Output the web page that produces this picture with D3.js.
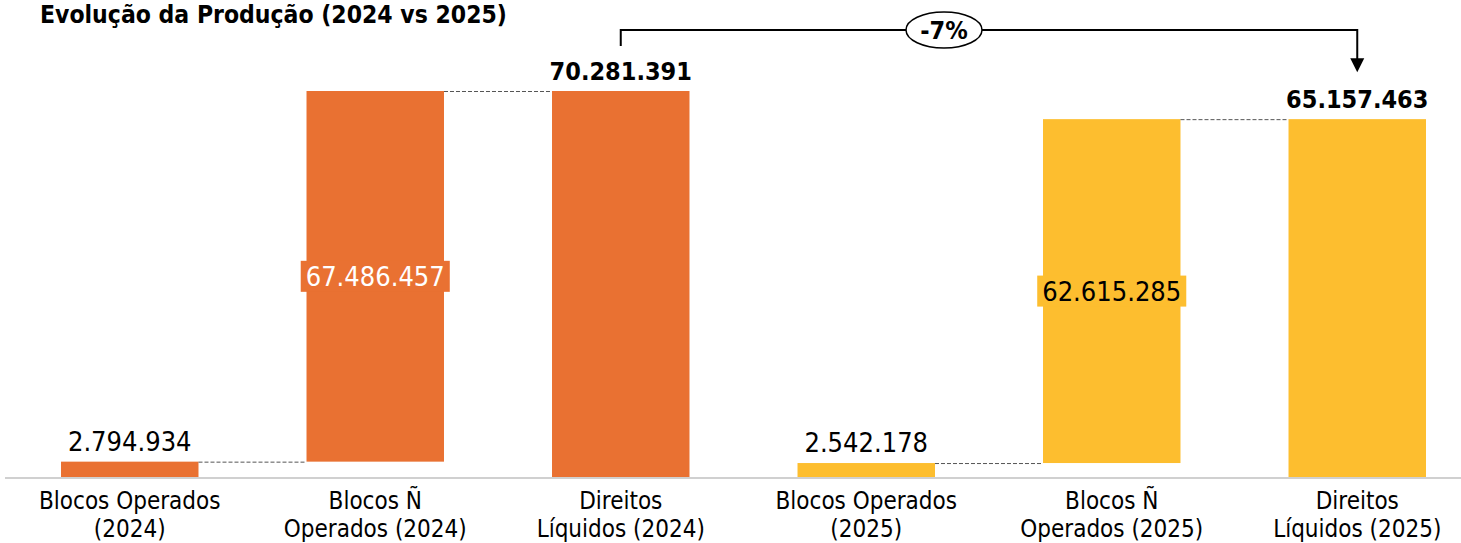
<!DOCTYPE html>
<html>
<head>
<meta charset="utf-8">
<script src="https://cdn.jsdelivr.net/npm/d3@7"></script>
<style>
  html, body { margin: 0; padding: 0; background: #fff; }
  svg { display: block; }
  text { font-family: "DejaVu Sans Condensed", "DejaVu Sans", sans-serif; }
</style>
</head>
<body>
<svg id="chart" width="1461" height="543"></svg>
<script>
// Production bridge, 2024 vs 2025
const categories = [
  ["Blocos Operados", "(2024)"],
  ["Blocos Ñ", "Operados (2024)"],
  ["Direitos", "Líquidos (2024)"],
  ["Blocos Operados", "(2025)"],
  ["Blocos Ñ", "Operados (2025)"],
  ["Direitos", "Líquidos (2025)"]
];
const values = [2794934, 67486457, 70281391, 2542178, 62615285, 65157463];
// "step" bars float on top of the previous bar, "total" bars start at zero
const kinds = ["step", "step", "total", "step", "step", "total"];
const years = ["2024", "2024", "2024", "2025", "2025", "2025"];
const variationLabel = "-7%";
const title = "Evolução da Produção (2024 vs 2025)";

const colors = { "2024": "#E97132", "2025": "#FDBE2F" };

const svg = d3.select("#chart");
const W = 1461, H = 543;
const baseY = 477;

const x = d3.scaleBand()
  .domain(d3.range(categories.length))
  .range([7, 1480])
  .paddingInner(0.44)
  .paddingOuter(0.22);

const y = d3.scaleLinear()
  .domain([0, 70281391])
  .range([baseY, 91]);

// Running start/end of each bar
const bars = [];
let running = 0;
values.forEach((v, i) => {
  if (kinds[i] === "total") {
    bars.push({ i, start: 0, end: v, value: v });
    running = 0;
  } else {
    bars.push({ i, start: running, end: running + v, value: v });
    running += v;
  }
});

const fmt = v => d3.format(",")(v).replace(/,/g, ".");

// Title
svg.append("text")
  .attr("x", 40).attr("y", 23)
  .attr("font-size", 24.5).attr("font-weight", "bold")
  .attr("fill", "#000")
  .text(title);

// Bars
svg.append("g").selectAll("rect")
  .data(bars).join("rect")
  .attr("x", d => x(d.i))
  .attr("width", x.bandwidth())
  .attr("y", d => y(d.end))
  .attr("height", d => y(d.start) - y(d.end))
  .attr("fill", d => colors[years[d.i]]);

// Dashed connectors between consecutive bars of the same year
const links = bars.slice(0, -1)
  .filter(d => years[d.i] === years[d.i + 1]);
svg.append("g").selectAll("line")
  .data(links).join("line")
  .attr("x1", d => x(d.i) + x.bandwidth())
  .attr("x2", d => x(d.i + 1))
  .attr("y1", d => y(d.end) + 0.5)
  .attr("y2", d => y(d.end) + 0.5)
  .attr("stroke", "#555")
  .attr("stroke-width", 1)
  .attr("stroke-dasharray", "4,2");

// Baseline
svg.append("line")
  .attr("x1", 5).attr("x2", W)
  .attr("y1", baseY + 1).attr("y2", baseY + 1)
  .attr("stroke", "#D0D0D0").attr("stroke-width", 2);

// Value labels
bars.forEach(d => {
  const cx = x(d.i) + x.bandwidth() / 2;
  if (d.start > 0) {
    // floating bar: label boxed at its middle
    const cy = (y(d.start) + y(d.end)) / 2;
    const g = svg.append("g");
    const t = g.append("text")
      .attr("x", cx).attr("y", cy + 10)
      .attr("text-anchor", "middle")
      .attr("font-size", 27)
      .attr("fill", years[d.i] === "2024" ? "#fff" : "#000")
      .text(fmt(d.value));
    const bb = t.node().getBBox();
    g.insert("rect", "text")
      .attr("x", bb.x - 5).attr("width", bb.width + 10)
      .attr("y", cy - 15.5).attr("height", 31)
      .attr("fill", colors[years[d.i]]);
  } else {
    const total = kinds[d.i] === "total";
    svg.append("text")
      .attr("x", cx).attr("y", y(d.end) - 11)
      .attr("text-anchor", "middle")
      .attr("font-size", total ? 25 : 27)
      .attr("font-weight", total ? "bold" : "normal")
      .attr("fill", "#000")
      .text(fmt(d.value));
  }
});

// Category labels
const xl = svg.append("g");
categories.forEach((lines, i) => {
  const t = xl.append("text")
    .attr("text-anchor", "middle")
    .attr("font-size", 24)
    .attr("fill", "#000");
  lines.forEach((ln, k) => {
    t.append("tspan")
      .attr("x", x(i) + x.bandwidth() / 2)
      .attr("y", 509 + k * 28)
      .text(ln);
  });
});

// Variation bracket between the two totals
const iA = 2, iB = 5;
const ax = x(iA) + x.bandwidth() / 2;
const bx = x(iB) + x.bandwidth() / 2;
const topY = 30;
svg.append("path")
  .attr("d", `M${ax},${y(values[iA]) - 45} V${topY} H${bx} V${y(values[iB]) - 56}`)
  .attr("fill", "none")
  .attr("stroke", "#000").attr("stroke-width", 2);
const tipY = y(values[iB]) - 47;
svg.append("path")
  .attr("d", `M${bx - 7},${tipY - 14} L${bx + 7},${tipY - 14} L${bx},${tipY} Z`)
  .attr("fill", "#000");
const ex = 944;
svg.append("ellipse")
  .attr("cx", ex).attr("cy", topY)
  .attr("rx", 38).attr("ry", 18)
  .attr("fill", "#fff").attr("stroke", "#000").attr("stroke-width", 1.5);
svg.append("text")
  .attr("x", ex).attr("y", topY + 9)
  .attr("text-anchor", "middle")
  .attr("font-size", 25).attr("font-weight", "bold")
  .text(variationLabel);
</script>
</body>
</html>
